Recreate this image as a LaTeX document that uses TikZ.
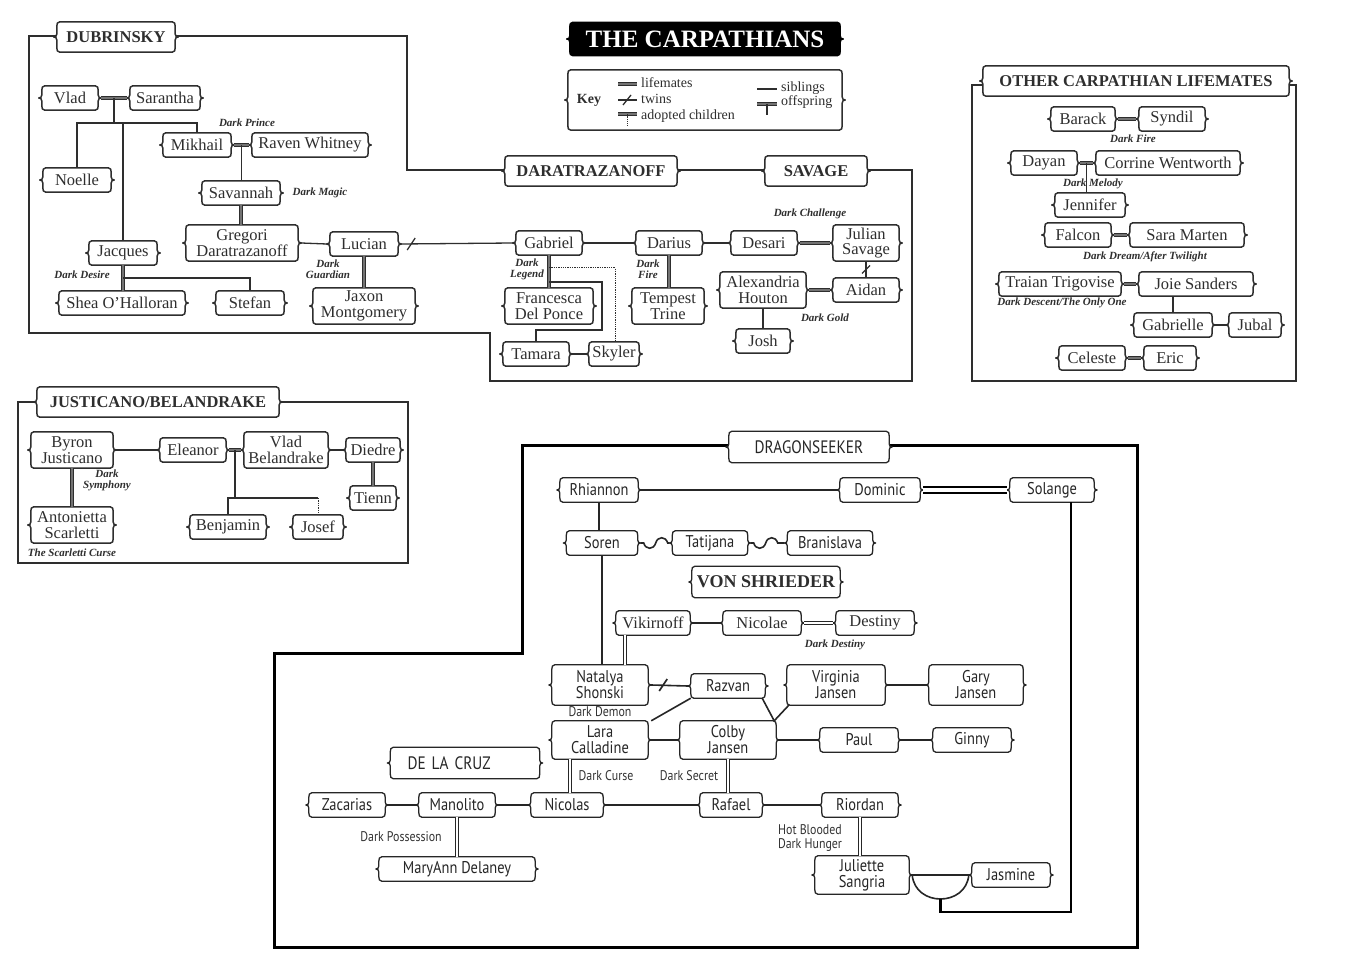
\documentclass[tikz,border=0pt]{standalone}
\usepackage{fontspec}
\setmainfont{Liberation Serif}
\newfontfamily\dsans[FakeStretch=0.85]{PT Sans}
\usetikzlibrary{calc}
\definecolor{ink}{gray}{0.18}
\pgfdeclarelayer{bg}
\pgfdeclarelayer{boxes}
\pgfsetlayers{bg,boxes,main}
\tikzset{
 fb/.style={inner sep=0pt, minimum height=24, align=center, font=\fontsize{16.5}{15.5}\selectfont, text=ink},
 tall/.style={minimum height=36},
 h40/.style={minimum height=40},
 h38/.style={minimum height=38},
 lab/.style={minimum height=30, font=\fontsize{16.5}{17}\selectfont\bfseries},
 dlab/.style={minimum height=31, font=\dsans\fontsize{18}{18}\selectfont, text=black!85},
 ds/.style={font=\dsans\fontsize{17}{16}\selectfont, text=black!85},
 boxpen/.style={draw=ink, line width=1.5pt, line join=round},
 curbox/.style={},
 frame/.style={draw=ink, line width=1.7pt},
 frame3/.style={draw=black, line width=3pt},
 ln/.style={draw=ink, line width=1.3pt},
 lm/.style={draw=ink, line width=1.4pt, double=black!55, double distance=1.6pt},
 dk/.style={draw=black!85, line width=1.6pt},
 dlm/.style={draw=black!85, line width=1.2pt, double=white, double distance=2pt},
 capt/.style={font=\fontsize{11}{11}\selectfont\bfseries\itshape, text=ink, inner sep=0pt, align=center},
 dcapt/.style={font=\dsans\fontsize{14}{14}\selectfont, text=black!80, inner sep=0pt, align=center},
 kf/.style={font=\fontsize{14}{14}\selectfont, text=ink, inner sep=0pt, anchor=west},
}
\newcommand{\brk}[2][]{%
\begin{pgfonlayer}{boxes}
\draw[boxpen,curbox,fill=white,#1] ($(#2.north west)+(6,0)$) -- ($(#2.north east)+(-6,0)$)
 .. controls +(2.5,0) and +(0,-2.5) .. ($(#2.north east)+(-3,4.5)$)
 -- ($(#2.east)+(-3,-3)$)
 .. controls +(0,2.2) and +(-1.8,0) .. (#2.east)
 .. controls +(-1.8,0) and +(0,-2.2) .. ($(#2.east)+(-3,3)$)
 -- ($(#2.south east)+(-3,-4.5)$)
 .. controls +(0,2.5) and +(2.5,0) .. ($(#2.south east)+(-6,0)$)
 -- ($(#2.south west)+(6,0)$)
 .. controls +(-2.5,0) and +(0,2.5) .. ($(#2.south west)+(3,-4.5)$)
 -- ($(#2.west)+(3,3)$)
 .. controls +(0,-2.2) and +(1.8,0) .. (#2.west)
 .. controls +(1.8,0) and +(0,2.2) .. ($(#2.west)+(3,-3)$)
 -- ($(#2.north west)+(3,4.5)$)
 .. controls +(0,-2.5) and +(-2.5,0) .. ($(#2.north west)+(6,0)$) -- cycle;
\end{pgfonlayer}}
\newcommand{\pn}[5][]{\node[fb,minimum width=#4,#1] (#2) at (#3) {#5};\brk{#2}}
\newcommand{\wv}[2]{\draw[dk] (#1.east) -- ++(3,0) .. controls +(2,7) and +(-2,7) .. ++(12,0) .. controls +(2,-7) and +(-2,-7) .. ++(12,0) -- (#2.west);}
\begin{document}
\begin{tikzpicture}[x=1pt,y=-1pt]
\useasboundingbox (0,0) rectangle (1355,968);
% ---------- frames
\begin{pgfonlayer}{bg}
\fill[white] (0,0) rectangle (1355,968);
\draw[frame] (29,36) -- (407,36) -- (407,170) -- (912,170) -- (912,381) -- (490,381) -- (490,333) -- (29,333) -- cycle;
\draw[frame] (972,85) rectangle (1296,381);
\draw[frame] (18,402) rectangle (408,563);
\draw[frame3] (274,653) -- (522,653) -- (522,445) -- (1137,445) -- (1137,947) -- (274,947) -- cycle;
\end{pgfonlayer}
% ---------- title and key
\node[fb, minimum width=276, minimum height=33, font=\fontsize{25}{25}\selectfont\bfseries, text=white] (title) at (705,39) {THE CARPATHIANS};
\brk[fill=black,draw=black]{title}
\node[fb, minimum width=280, minimum height=60] (keybox) at (705,100) {};
\brk{keybox}
\node[font=\fontsize{14}{14}\selectfont\bfseries, text=ink, inner sep=0pt] (keyt) at (589,100) {Key};
\draw[lm] (618,84) -- (637,84);
\node[kf] (k1) at (641,83) {lifemates};
\draw[ln] (618,100) -- (637,100);
\draw[ln] (623,105) -- (631,95);
\node[kf] (k2) at (641,99) {twins};
\draw[lm] (618,114) -- (637,114);
\draw[ln, densely dotted] (627.5,114) -- (627.5,126);
\node[kf] (k3) at (641,116) {adopted children};
\draw[ln] (757,89) -- (777,89);
\node[kf] (k4) at (781,88) {siblings};
\draw[lm] (757,104) -- (777,104);
\draw[ln] (767,104) -- (767,115);
\node[kf] (k5) at (781,102) {offspring};
% ---------- Dubrinsky / Daratrazanoff / Savage
\pn[lab]{dub}{116,37}{124}{DUBRINSKY}
\pn[lab]{dara}{591,171}{178}{DARATRAZANOFF}
\pn[lab]{sav}{816,171}{108}{SAVAGE}
\pn{vlad}{70,98}{62}{Vlad}
\pn{sarantha}{165,98}{76}{Sarantha}
\pn{noelle}{77,180}{74}{Noelle}
\pn{mikhail}{197,145}{74}{Mikhail}
\pn{raven}{310,145}{122}{Raven Whitney}
\pn{savannah}{241,193}{84}{Savannah}
\pn[tall]{gregori}{242,243}{118}{Gregori\\Daratrazanoff}
\pn{lucian}{364,244}{74}{Lucian}
\pn[tall]{jaxon}{364,306}{108}{Jaxon\\Montgomery}
\pn{jacques}{123,253}{74}{Jacques}
\pn{shea}{122,303}{132}{Shea O’Halloran}
\pn{stefan}{250,303}{74}{Stefan}
\pn{gabriel}{549,243}{72}{Gabriel}
\pn{darius}{669,243}{72}{Darius}
\pn{desari}{764,243}{72}{Desari}
\pn[tall]{julian}{866,243}{72}{Julian\\Savage}
\pn{aidan}{866,290}{72}{Aidan}
\pn[tall]{alex}{763,290}{92}{Alexandria\\Houton}
\pn{josh}{763,341}{60}{Josh}
\pn[tall]{francesca}{549,306}{94}{Francesca\\Del Ponce}
\pn[tall]{tempest}{668,306}{78}{Tempest\\Trine}
\pn{tamara}{536,354}{72}{Tamara}
\pn{skyler}{614,354}{56}{Skyler}
\node[capt] (c1) at (247,123) {Dark Prince};
\node[capt] (c2) at (320,193) {Dark Magic};
\node[capt] (c3) at (328,269) {Dark\\Guardian};
\node[capt] (c4) at (82,275) {Dark Desire};
\node[capt] (c5) at (527,269) {Dark\\Legend};
\node[capt] (c6) at (648,269) {Dark\\Fire};
\node[capt] (c7) at (810,214) {Dark Challenge};
\node[capt] (c8) at (825,318) {Dark Gold};
\coordinate (vs) at ($(vlad.east)!0.5!(sarantha.west)$);
\coordinate (vj) at (0,123);
\draw[lm] (vlad.east) -- (sarantha.west);
\draw[ln] (vs) -- (vs |- vj);
\draw[ln] (noelle.north) -- (noelle.north |- vj) -- (mikhail.north |- vj) -- (mikhail.north);
\draw[ln] (jacques.north) -- (jacques.north |- vj);
\coordinate (ms) at ($(mikhail.east)!0.5!(raven.west)$);
\draw[lm] (mikhail.east) -- (raven.west);
\draw[ln] (ms) -- (ms |- savannah.north);
\draw[lm] (savannah.south) -- (savannah.south |- gregori.north);
\draw[ln] (gregori.east) -- (lucian.west);
\draw[ln] (lucian.east) -- (gabriel.west);
\draw[ln] ($(lucian.east)+(6,6)$) -- ($(lucian.east)+(14,-6)$);
\draw[lm] (lucian.south) -- (lucian.south |- jaxon.north);
\draw[lm] (jacques.south) -- (jacques.south |- shea.north);
\coordinate (jo) at ($(jacques.south)!0.5!(jacques.south |- shea.north)$);
\draw[ln] (jo) -- (stefan.north |- jo) -- (stefan.north);
\draw[ln] (gabriel.east) -- (darius.west);
\draw[ln] (darius.east) -- (desari.west);
\draw[lm] (desari.east) -- (julian.west);
\draw[ln] (julian.south) -- (aidan.north);
\coordinate (jt) at ($(julian.south)!0.5!(aidan.north)$);
\draw[ln] ($(jt)+(-4,4)$) -- ($(jt)+(4,-4)$);
\draw[lm] (alex.east) -- (aidan.west);
\draw[ln] (alex.south) -- (josh.north);
\draw[lm] (gabriel.south) -- (gabriel.south |- francesca.north);
\coordinate (goy) at (0,282);
\coordinate (gbend) at (602,330);
\draw[ln] (gabriel.south |- goy) -- (gbend |- goy) -- (gbend) -- (tamara.north |- gbend) -- (tamara.north);
\coordinate (gad) at (615,268);
\draw[ln, densely dotted, line width=1pt] (gabriel.south |- gad) -- (gad) -- (gad |- skyler.north);
\draw[ln] (tamara.east) -- (skyler.west);
\draw[lm] (darius.south) -- (darius.south |- tempest.north);
% ---------- Other Carpathian lifemates
\pn[lab]{olab}{1136,81}{312}{OTHER CARPATHIAN LIFEMATES}
\pn{barack}{1083,119}{70}{Barack}
\pn{syndil}{1172,119}{72}{Syndil}
\pn{dayan}{1044,163}{72}{Dayan}
\pn{corrine}{1168,163}{150}{Corrine Wentworth}
\pn{jennifer}{1090,205}{76}{Jennifer}
\pn{falcon}{1078,235}{72}{Falcon}
\pn{sara}{1187,235}{120}{Sara Marten}
\pn{traian}{1060,284}{128}{Traian Trigovise}
\pn{joie}{1196,284}{120}{Joie Sanders}
\pn{gabrielle}{1173,325}{84}{Gabrielle}
\pn{jubal}{1255,325}{58}{Jubal}
\pn{celeste}{1092,358}{72}{Celeste}
\pn{eric}{1170,358}{58}{Eric}
\node[capt] (c9) at (1133,139) {Dark Fire};
\node[capt] (c10) at (1093,184) {Dark Melody};
\node[capt] (c11) at (1145,257) {Dark Dream/After Twilight};
\node[capt] (c12) at (1062,303) {Dark Descent/The Only One};
\draw[lm] (barack.east) -- (syndil.west);
\draw[lm] (dayan.east) -- (corrine.west);
\coordinate (dsm) at ($(dayan.east)!0.5!(corrine.west)$);
\draw[ln] (dsm) -- (dsm |- jennifer.north);
\draw[lm] (falcon.east) -- (sara.west);
\draw[lm] (traian.east) -- (joie.west);
\draw[ln] (gabrielle.north |- joie.south) -- (gabrielle.north);
\draw[ln] (gabrielle.east) -- (jubal.west);
\draw[lm] (celeste.east) -- (eric.west);
% ---------- Justicano / Belandrake
\pn[lab]{jlab}{158,402}{248}{JUSTICANO/BELANDRAKE}
\pn[tall]{byron}{72,450}{88}{Byron\\Justicano}
\pn{eleanor}{193,450}{72}{Eleanor}
\pn[tall]{vladb}{286,450}{90}{Vlad\\Belandrake}
\pn{diedre}{373,450}{60}{Diedre}
\pn{tienn}{373,498}{52}{Tienn}
\pn[tall]{antonietta}{72,525}{88}{Antonietta\\Scarletti}
\pn{benjamin}{228,527}{82}{Benjamin}
\pn{josef}{318,527}{56}{Josef}
\node[capt] (c13) at (107,480) {Dark\\Symphony};
\node[capt] (c14) at (72,553) {The Scarletti Curse};
\draw[ln] (byron.east) -- (eleanor.west);
\draw[lm] (eleanor.east) -- (vladb.west);
\coordinate (es) at ($(eleanor.east)!0.5!(vladb.west)$);
\coordinate (ey) at (0,498);
\draw[ln] (es) -- (es |- ey);
\draw[ln] (benjamin.north) -- (benjamin.north |- ey) -- (josef.north |- ey);
\draw[ln, densely dotted, line width=1pt] (josef.north |- ey) -- (josef.north);
\draw[ln] (vladb.east) -- (diedre.west);
\draw[lm] (diedre.south) -- (tienn.north);
\draw[lm] (byron.south) -- (antonietta.north);
% ---------- Dragonseeker / Von Shrieder / De la Cruz
\tikzset{curbox/.style={draw=black!85, line width=1.3pt}}
\pn[dlab]{dlab}{809,447}{166}{DRAGONSEEKER}
\pn[lab,minimum height=31,font=\fontsize{18}{18}\selectfont\bfseries]{vlab}{766,582}{154}{VON SHRIEDER}
\pn[dlab,text width=115,align=left]{clab}{465,763}{155}{DE LA CRUZ}
\pn[ds]{rhiannon}{599,490}{84}{Rhiannon}
\pn[ds]{dominic}{880,490}{86}{Dominic}
\pn[ds]{solange}{1052,490}{90}{Solange}
\pn[ds]{soren}{602,543}{77}{Soren}
\pn[ds]{tatijana}{710,543}{81}{Tatijana}
\pn[ds]{branislava}{830,543}{91}{Branislava}
\pn{vikirnoff}{653,623}{80}{Vikirnoff}
\pn{nicolae}{762,623}{84}{Nicolae}
\pn{destiny}{875,623}{84}{Destiny}
\pn[ds,h40]{natalya}{600,685}{102}{Natalya\\Shonski}
\pn[ds]{razvan}{728,686}{80}{Razvan}
\pn[ds,h40]{virginia}{836,685}{104}{Virginia\\Jansen}
\pn[ds,h40]{gary}{976,685}{100}{Gary\\Jansen}
\pn[ds,h38]{lara}{600,740}{102}{Lara\\Calladine}
\pn[ds,h38]{colby}{728,740}{102}{Colby\\Jansen}
\pn[ds]{paul}{859,740}{84}{Paul}
\pn[ds]{ginny}{972,740}{84}{Ginny}
\pn[ds]{zacarias}{347,805}{82}{Zacarias}
\pn[ds]{manolito}{457,805}{82}{Manolito}
\pn[ds]{nicolas}{567,805}{78}{Nicolas}
\pn[ds]{rafael}{731,805}{68}{Rafael}
\pn[ds]{riordan}{860,805}{82}{Riordan}
\pn[ds]{maryann}{457,869}{162}{MaryAnn Delaney}
\pn[ds,h38]{juliette}{862,875}{100}{Juliette\\Sangria}
\pn[ds]{jasmine}{1011,875}{84}{Jasmine}
\node[capt] (c15) at (835,645) {Dark Destiny};
\node[dcapt] (c16) at (600,712) {Dark Demon};
\node[dcapt] (c17) at (606,776) {Dark Curse};
\node[dcapt] (c18) at (689,776) {Dark Secret};
\node[dcapt] (c19) at (401,837) {Dark Possession};
\node[dcapt] (c20) at (810,838) {Hot Blooded\\Dark Hunger};
\draw[dk, line width=2.4pt] (rhiannon.east) -- (dominic.west);
\draw[draw=black, line width=2pt, double=white, double distance=3.5pt] (dominic.east) -- (solange.west);
\draw[dk] (rhiannon.south) -- (rhiannon.south |- soren.north);
\wv{soren}{tatijana}
\wv{tatijana}{branislava}
\draw[dk] (soren.south) -- (soren.south |- natalya.north);
\coordinate (vx) at (625,0);
\draw[dlm] (vx |- vikirnoff.south) -- (vx |- natalya.north);
\draw[dk] (vikirnoff.east) -- (nicolae.west);
\draw[dlm] (nicolae.east) -- (destiny.west);
\draw[dk] (natalya.east) -- (razvan.west);
\draw[dk] ($(natalya.east)+(8,6)$) -- ($(natalya.east)+(16,-6)$);
\draw[dk] ($(razvan.south west)+(3,0)$) -- (lara.north east);
\coordinate (cv) at ($(colby.north east)+(-5,0)$);
\draw[dk] ($(razvan.south east)+(-6,0)$) -- (cv);
\draw[dk] ($(virginia.south west)+(5,0)$) -- (cv);
\draw[dk] (virginia.east) -- (gary.west);
\draw[dk] (lara.east) -- (colby.west);
\draw[dk] (colby.east) -- (paul.west);
\draw[dk] (paul.east) -- (ginny.west);
\coordinate (lx) at (570,0);
\draw[dlm] (lx |- lara.south) -- (lx |- nicolas.north);
\draw[dlm] (colby.south) -- (colby.south |- rafael.north);
\draw[dk] (zacarias.east) -- (manolito.west);
\draw[dk] (manolito.east) -- (nicolas.west);
\draw[dk] (nicolas.east) -- (rafael.west);
\draw[dk] (rafael.east) -- (riordan.west);
\draw[dlm] (manolito.south) -- (manolito.south |- maryann.north);
\draw[dlm] (riordan.south) -- (riordan.south |- juliette.north);
\draw[dk] (juliette.east) -- (jasmine.west);
\draw[dk] (juliette.east) .. controls +(3,32) and +(-3,32) .. (jasmine.west);
\coordinate (bowl) at ($(juliette.east)!0.5!(jasmine.west)+(0,24)$);
\coordinate (sl) at (1071,912);
\draw[draw=black, line width=2.2pt] (bowl) -- (bowl |- sl) -- (sl) -- (sl |- solange.south);
\end{tikzpicture}
\end{document}
